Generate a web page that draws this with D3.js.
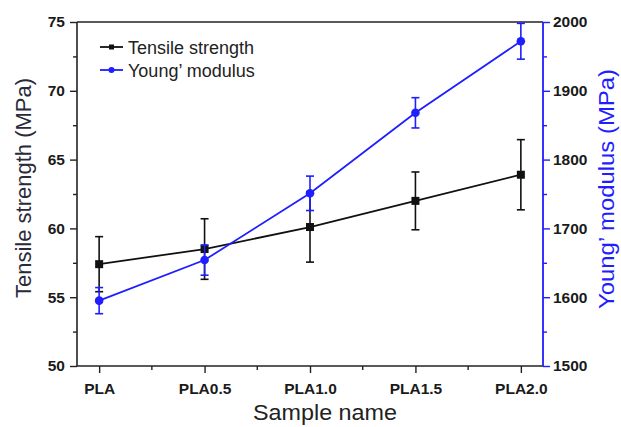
<!DOCTYPE html>
<html>
<head>
<meta charset="utf-8">
<script src="https://cdn.jsdelivr.net/npm/d3@7"></script>
<style>
  body { margin: 0; background: #fff; }
  svg { display: block; font-family: "Liberation Sans", Arial, sans-serif; }
  .tick text { font-weight: bold; font-size: 15.5px; fill: #1a1a1a; }
</style>
</head>
<body>
<div id="chart"></div>
<script>
var categories = ["PLA", "PLA0.5", "PLA1.0", "PLA1.5", "PLA2.0"];
var tensile = [57.4, 58.5, 60.1, 62.0, 63.9];
var tensileErr = [2.0, 2.2, 2.55, 2.1, 2.55];
var modulus = [1595, 1654, 1751, 1868, 1972];
var modulusErr = [19, 22, 25, 22, 26];
var leftTicks = [50, 55, 60, 65, 70, 75];
var rightTicks = [1500, 1600, 1700, 1800, 1900, 2000];

var W = 621, H = 427,
    plot = {left: 77, right: 543, top: 22, bottom: 366},
    black = "#111", blue = "#1e1eff";

var svg = d3.select("#chart").append("svg").attr("width", W).attr("height", H);

var x = d3.scalePoint().domain(categories).range([plot.left, plot.right]).padding(0.21);
var yL = d3.scaleLinear().domain([50, 75]).range([plot.bottom, plot.top]);
var yR = d3.scaleLinear().domain([1500, 2000]).range([plot.bottom, plot.top]);

// frame: top line
svg.append("line").attr("x1", plot.left).attr("x2", plot.right)
    .attr("y1", plot.top).attr("y2", plot.top)
    .attr("stroke", "#222").attr("stroke-width", 1.6);

// minor tick positions
var xMinor = categories.slice(1).map(function(c, i) {
  return (x(categories[i]) + x(c)) / 2;
});
var leftMinor = leftTicks.slice(1).map(function(v) { return v - 2.5; });
var rightMinor = rightTicks.slice(1).map(function(v) { return v - 50; });

// x axis
var gx = svg.append("g").attr("transform", "translate(0," + plot.bottom + ")")
    .call(d3.axisBottom(x).tickSize(7).tickPadding(6));
gx.select(".domain").attr("d", "M" + plot.left + ",0H" + plot.right)
    .attr("stroke", "#222").attr("stroke-width", 1.6);
gx.selectAll(".tick line").attr("stroke", "#222").attr("stroke-width", 1.4);
gx.selectAll(".tick text").attr("dy", "0.95em");
xMinor.forEach(function(px) {
  gx.append("line").attr("x1", px).attr("x2", px).attr("y1", 0).attr("y2", 4)
      .attr("stroke", "#222").attr("stroke-width", 1.4);
});

// left axis
var gl = svg.append("g").attr("transform", "translate(" + plot.left + ",0)")
    .call(d3.axisLeft(yL).tickValues(leftTicks).tickSize(7).tickPadding(5));
gl.select(".domain").attr("d", "M0," + plot.top + "V" + plot.bottom)
    .attr("stroke", "#222").attr("stroke-width", 1.6);
gl.selectAll(".tick line").attr("stroke", "#222").attr("stroke-width", 1.4);
var glm = svg.append("g").attr("transform", "translate(" + plot.left + ",0)")
    .call(d3.axisLeft(yL).tickValues(leftMinor).tickSize(4).tickFormat(""));
glm.select(".domain").remove();
glm.selectAll(".tick line").attr("stroke", "#222").attr("stroke-width", 1.4);

// right axis (blue)
var gr = svg.append("g").attr("transform", "translate(" + plot.right + ",0)")
    .call(d3.axisRight(yR).tickValues(rightTicks).tickFormat(d3.format("d")).tickSize(7).tickPadding(3));
gr.select(".domain").attr("d", "M0," + plot.top + "V" + plot.bottom)
    .attr("stroke", blue).attr("stroke-width", 1.8);
gr.selectAll(".tick line").attr("stroke", blue).attr("stroke-width", 1.4);
var grm = svg.append("g").attr("transform", "translate(" + plot.right + ",0)")
    .call(d3.axisRight(yR).tickValues(rightMinor).tickSize(4).tickFormat(""));
grm.select(".domain").remove();
grm.selectAll(".tick line").attr("stroke", blue).attr("stroke-width", 1.4);

// series drawing helper
function drawSeries(vals, errs, y, color, marker) {
  var g = svg.append("g");
  var pts = categories.map(function(c, i) { return {c: c, v: vals[i], e: errs[i]}; });
  g.append("path").datum(pts)
      .attr("fill", "none").attr("stroke", color).attr("stroke-width", 1.8)
      .attr("d", d3.line().x(function(d) { return x(d.c); }).y(function(d) { return y(d.v); }));
  var eb = g.selectAll(".err").data(pts).enter().append("g").attr("class", "err")
      .attr("stroke", color).attr("stroke-width", 1.6);
  eb.append("line")
      .attr("x1", function(d) { return x(d.c); }).attr("x2", function(d) { return x(d.c); })
      .attr("y1", function(d) { return y(d.v - d.e); }).attr("y2", function(d) { return y(d.v + d.e); });
  [-1, 1].forEach(function(s) {
    eb.append("line")
        .attr("x1", function(d) { return x(d.c) - 4; }).attr("x2", function(d) { return x(d.c) + 4; })
        .attr("y1", function(d) { return y(d.v + s * d.e); }).attr("y2", function(d) { return y(d.v + s * d.e); });
  });
  if (marker === "square") {
    g.selectAll(".m").data(pts).enter().append("rect")
        .attr("x", function(d) { return x(d.c) - 4; }).attr("y", function(d) { return y(d.v) - 4; })
        .attr("width", 8).attr("height", 8).attr("fill", color);
  } else {
    g.selectAll(".m").data(pts).enter().append("circle")
        .attr("cx", function(d) { return x(d.c); }).attr("cy", function(d) { return y(d.v); })
        .attr("r", 4.3).attr("fill", color);
  }
}

drawSeries(tensile, tensileErr, yL, black, "square");
drawSeries(modulus, modulusErr, yR, blue, "circle");

// legend
var legend = [
  {name: "Tensile strength", color: black, marker: "square", y: 47},
  {name: "Young\u2019 modulus", color: blue, marker: "circle", y: 70}
];
var lg = svg.selectAll(".leg").data(legend).enter().append("g").attr("class", "leg");
lg.append("line").attr("x1", 100).attr("x2", 123)
    .attr("y1", function(d) { return d.y; }).attr("y2", function(d) { return d.y; })
    .attr("stroke", function(d) { return d.color; }).attr("stroke-width", 1.8);
lg.each(function(d) {
  var s = d3.select(this);
  if (d.marker === "square") {
    s.append("rect").attr("x", 109).attr("y", d.y - 2.5).attr("width", 5).attr("height", 5).attr("fill", d.color);
  } else {
    s.append("circle").attr("cx", 111.5).attr("cy", d.y).attr("r", 3).attr("fill", d.color);
  }
});
lg.append("text").attr("x", 128).attr("y", function(d) { return d.y + 6.5; })
    .attr("font-size", 18).attr("fill", "#222")
    .text(function(d) { return d.name; });

// axis titles
svg.append("text").attr("transform", "translate(31,188) rotate(-90)")
    .attr("text-anchor", "middle").attr("font-size", 22).attr("fill", "#2a2a3a")
    .text("Tensile strength (MPa)");
svg.append("text").attr("transform", "translate(614,189) rotate(-90)")
    .attr("text-anchor", "middle").attr("font-size", 22).attr("fill", blue)
    .attr("textLength", 240).attr("lengthAdjust", "spacingAndGlyphs")
    .text("Young\u2019 modulus (MPa)");
svg.append("text").attr("x", 325).attr("y", 420)
    .attr("text-anchor", "middle").attr("font-size", 22).attr("fill", "#222")
    .attr("textLength", 144).attr("lengthAdjust", "spacingAndGlyphs")
    .text("Sample name");
</script>
</body>
</html>
